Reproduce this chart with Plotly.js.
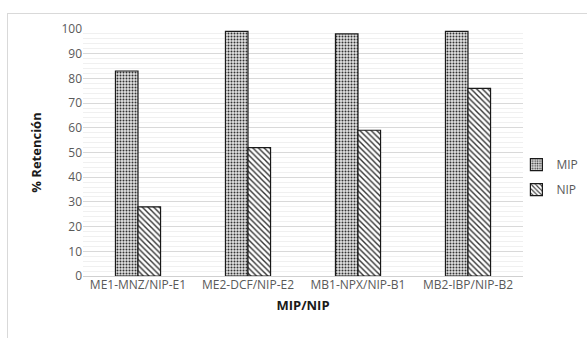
<!DOCTYPE html>
<html><head><meta charset="utf-8">
<script src="https://cdn.plot.ly/plotly-3.0.1.min.js"></script>
<style>
html,body{margin:0;padding:0;background:#fff;overflow:hidden;}
#frame{position:absolute;left:7px;top:13px;width:600px;height:340px;border:1px solid #d9d9d9;}
#chart{position:absolute;left:0;top:0;width:587px;height:338px;}
</style></head>
<body>
<div id="frame"></div>
<div id="chart"></div>
<script>
var categories = ["ME1-MNZ/NIP-E1","ME2-DCF/NIP-E2","MB1-NPX/NIP-B1","MB2-IBP/NIP-B2"];
var mipValues = [83, 99, 98, 99];
var nipValues = [28, 52, 59, 76];
var yTicks = [0,10,20,30,40,50,60,70,80,90,100];

var font = {family: "Open Sans, Liberation Sans, sans-serif", size: 12, color: "#595959"};
var traces = [
  {type:"bar", name:"MIP", legendgroup:"mip", x:categories, y:mipValues,
   marker:{color:"#ffffff", line:{color:"#1a1a1a", width:1.2},
     pattern:{shape:".", fgcolor:"#333333", bgcolor:"#e2e2e2", size:3, solidity:0.35}}},
  {type:"bar", name:"NIP", legendgroup:"nip", x:categories, y:nipValues,
   marker:{color:"#ffffff", line:{color:"#1a1a1a", width:1.2},
     pattern:{shape:"\\", fgcolor:"#333333", bgcolor:"#ffffff", size:4, solidity:0.35}}}
];
var layout = {
  width:587, height:338,
  margin:{l:83, r:64, t:29, b:62, autoexpand:false},
  paper_bgcolor:"rgba(0,0,0,0)", plot_bgcolor:"rgba(0,0,0,0)",
  barmode:"group", bargap:0.59, bargroupgap:0,
  font:font,
  showlegend:true,
  legend:{x:0.985, y:0.40, xanchor:"left", yanchor:"middle", font:{family:font.family,size:12,color:"#595959"},
          tracegroupgap:6, itemwidth:30, bgcolor:"rgba(0,0,0,0)"},
  xaxis:{type:"category", showgrid:false, showline:false, ticks:"", tickfont:font,
         title:{text:"<b>MIP/NIP</b>", font:{family:font.family,size:13,color:"#1a1a1a"}, standoff:8}},
  yaxis:{range:[0,100], tickvals:yTicks, ticktext:yTicks.map(String), showgrid:true, gridcolor:"#d9d9d9", gridwidth:1,
         zeroline:true, zerolinecolor:"#d0d0d0", showline:false, ticks:"", tickfont:font,
         minor:{dtick:2, showgrid:true, gridcolor:"#f0f0f0", gridwidth:1},
         title:{text:"<b>% Retención</b>", font:{family:font.family,size:13,color:"#1a1a1a"}, standoff:16}}
};
Plotly.newPlot("chart", traces, layout, {displayModeBar:false, staticPlot:true});
</script>
</body></html>
